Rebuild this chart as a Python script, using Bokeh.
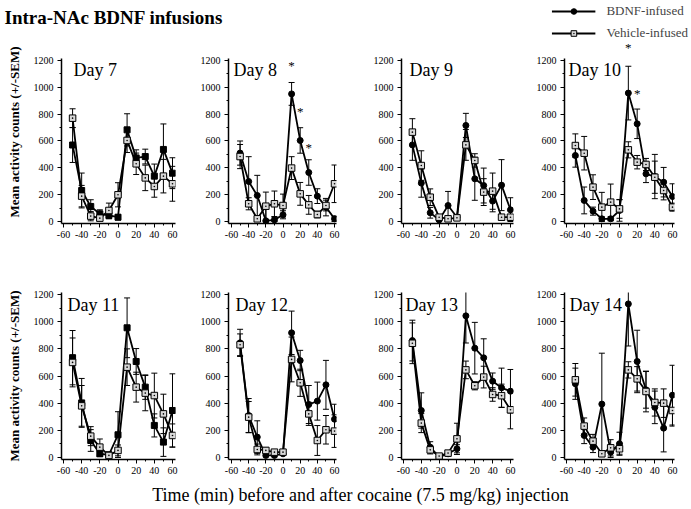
import numpy as np
from bokeh.plotting import figure
from bokeh.layouts import column, row
from bokeh.models import Range1d, FixedTicker, Label, Legend, LegendItem
from bokeh.embed import file_html
from bokeh.resources import INLINE

SERIF = "Liberation Serif"

time_min = [-50, -40, -30, -20, -10, 0, 10, 20, 30, 40, 50, 60]
x_ticks = [-60, -40, -20, 0, 20, 40, 60]
y_ticks = [0, 200, 400, 600, 800, 1000, 1200]

# ---- data (mean counts and SEM) ----
bdnf_d7 = [570, 231, 112, 57, 45, 32, 683, 474, 484, 338, 537, 360]
bdnf_d7_sem = [130, 130, 50, 30, 25, 20, 120, 60, 55, 90, 190, 115]
veh_d7 = [770, 189, 40, 25, 82, 199, 604, 430, 325, 261, 338, 281]
veh_d7_sem = [70, 80, 35, 20, 55, 90, 90, 80, 95, 80, 125, 130]

bdnf_d8 = [510, 298, 194, 5, 12, 50, 951, 604, 365, 189, 107, 20]
bdnf_d8_sem = [90, 185, 150, 100, 20, 30, 85, 95, 95, 55, 65, 20]
veh_d8 = [484, 132, 20, 114, 132, 119, 398, 206, 124, 52, 119, 281]
veh_d8_sem = [90, 45, 20, 105, 95, 85, 85, 85, 70, 25, 40, 140]

bdnf_d9 = [571, 286, 65, 12, 119, 32, 716, 318, 268, 152, 271, 87]
bdnf_d9_sem = [115, 105, 40, 10, 105, 15, 90, 160, 130, 80, 190, 90]
veh_d9 = [666, 417, 181, 32, 20, 27, 571, 455, 219, 226, 32, 32]
veh_d9_sem = [100, 110, 62, 15, 10, 15, 115, 50, 100, 135, 20, 20]

bdnf_d10 = [492, 157, 77, 20, 20, 82, 957, 728, 355, 335, 293, 186]
bdnf_d10_sem = [87, 100, 30, 15, 15, 80, 200, 110, 65, 165, 110, 95]
veh_d10 = [566, 509, 256, 107, 144, 94, 534, 442, 425, 330, 231, 107]
veh_d10_sem = [87, 125, 92, 110, 135, 70, 60, 50, 45, 120, 70, 30]

bdnf_d11 = [735, 402, 125, 27, 20, 167, 955, 707, 518, 236, 113, 346]
bdnf_d11_sem = [200, 180, 80, 20, 15, 170, 220, 95, 90, 85, 105, 270]
veh_d11 = [700, 380, 157, 76, 15, 52, 665, 518, 474, 456, 321, 162]
veh_d11_sem = [180, 150, 70, 60, 10, 40, 135, 110, 130, 165, 145, 85]

bdnf_d12 = [844, 309, 150, 15, 15, 27, 918, 714, 390, 415, 535, 282]
bdnf_d12_sem = [100, 125, 120, 10, 10, 10, 160, 75, 140, 140, 180, 110]
veh_d12 = [830, 297, 59, 52, 39, 39, 722, 550, 321, 125, 204, 194]
veh_d12_sem = [80, 115, 40, 20, 15, 15, 165, 100, 85, 110, 105, 120]

bdnf_d13 = [861, 346, 76, 5, 27, 64, 1043, 805, 734, 562, 513, 488]
bdnf_d13_sem = [150, 130, 40, 10, 15, 30, 200, 190, 140, 60, 145, 160]
veh_d13 = [841, 253, 56, 10, 32, 137, 645, 528, 592, 464, 455, 351]
veh_d13_sem = [150, 70, 30, 10, 15, 115, 65, 30, 80, 50, 85, 140]

bdnf_d14 = [543, 162, 76, 393, 39, 101, 1131, 707, 498, 369, 216, 459]
bdnf_d14_sem = [115, 60, 40, 375, 40, 85, 310, 230, 135, 120, 175, 220]
veh_d14 = [572, 231, 120, 27, 71, 64, 645, 579, 486, 405, 400, 346]
veh_d14_sem = [120, 60, 50, 20, 60, 40, 60, 90, 150, 100, 105, 115]

# significance asterisks (time, height)
star_d8_x = [10, 20, 30]
star_d8_y = [1163, 820, 554]
star_d10_x = [10, 20]
star_d10_y = [1295, 956]

panels = [
    (7, bdnf_d7, bdnf_d7_sem, veh_d7, veh_d7_sem, "square", None),
    (8, bdnf_d8, bdnf_d8_sem, veh_d8, veh_d8_sem, "circle", (star_d8_x, star_d8_y)),
    (9, bdnf_d9, bdnf_d9_sem, veh_d9, veh_d9_sem, "circle", None),
    (10, bdnf_d10, bdnf_d10_sem, veh_d10, veh_d10_sem, "circle", (star_d10_x, star_d10_y)),
    (11, bdnf_d11, bdnf_d11_sem, veh_d11, veh_d11_sem, "square", None),
    (12, bdnf_d12, bdnf_d12_sem, veh_d12, veh_d12_sem, "circle", None),
    (13, bdnf_d13, bdnf_d13_sem, veh_d13, veh_d13_sem, "circle", None),
    (14, bdnf_d14, bdnf_d14_sem, veh_d14, veh_d14_sem, "circle", None),
]

# layout geometry (px)
col_xr = [(-62.2, 63.3), (-63.5, 62.3), (-62.2, 63.4), (-62.3, 62.3)]
col_bl = [61, 40, 40, 40]
col_fw = [114, 108, 112, 110]
col_br = [13, 25, 11, 17]
day_dx = [12, 5, 8, 4, 6, 7, 4, 5]
row_yr = [(-15, -15 + 183 / (161 / 1200)), (-15, 1215)]
row_bt = [0, 50]
row_fh = [183, 167]
row_bb = [19, 19]

YLAB = "Mean activity counts (+/-SEM)"
TICK_TEXT = {-60: "-60", -40: "-40", -20: "-20"}


def make_panel(i, day, bdnf, bsem, veh, vsem, bmark, stars):
    c = i % 4
    r = i // 4
    w = col_bl[c] + col_fw[c] + col_br[c]
    h = row_bt[r] + row_fh[r] + row_bb[r]
    p = figure(width=w, height=h, x_range=Range1d(*col_xr[c]), y_range=Range1d(*row_yr[r]),
               output_backend="svg", toolbar_location=None,
               min_border_left=col_bl[c], min_border_right=col_br[c],
               min_border_top=row_bt[r], min_border_bottom=row_bb[r])
    p.outline_line_color = None
    p.grid.visible = False

    p.xaxis.ticker = FixedTicker(ticks=x_ticks, minor_ticks=list(range(-60, 61, 10)))
    p.xaxis.major_label_overrides = TICK_TEXT
    p.yaxis.ticker = FixedTicker(ticks=y_ticks, minor_ticks=list(range(0, 1201, 100)))
    p.yaxis.bounds = (-15, 1215)
    for ax in (p.xaxis, p.yaxis):
        ax.axis_line_width = 1.5
        ax.axis_line_color = "black"
        ax.major_tick_line_color = "black"
        ax.minor_tick_line_color = "black"
        ax.major_tick_out = 4
        ax.major_tick_in = 0
        ax.minor_tick_out = 2
        ax.minor_tick_in = 0
        ax.major_label_text_font = SERIF
        ax.major_label_text_font_size = "10px"
        ax.major_label_text_color = "black"
    p.xaxis.major_label_standoff = 3
    p.yaxis.major_label_standoff = 4
    if c == 0:
        p.yaxis.axis_label = YLAB
        p.yaxis.axis_label_text_font = SERIF
        p.yaxis.axis_label_text_font_style = "bold"
        p.yaxis.axis_label_text_font_size = "13px"
        p.yaxis.axis_label_standoff = 9
        p.yaxis.axis_label_text_color = "black"

    t = np.array(time_min, dtype=float)
    b = np.array(bdnf, dtype=float)
    be = np.array(bsem, dtype=float)
    v = np.array(veh, dtype=float)
    ve = np.array(vsem, dtype=float)

    # error bars (+/- SEM)
    for yy, ee in ((v, ve), (b, be)):
        lo = np.maximum(yy - ee, 0)
        hi = yy + ee
        p.segment(x0=t, y0=lo, x1=t, y1=hi, line_color="black", line_width=1)
        p.scatter(x=np.concatenate([t, t]), y=np.concatenate([lo, hi]), marker="dash",
                  size=6, line_color="black", line_width=1)

    p.line(t, v, line_color="black", line_width=1.8)
    p.line(t, b, line_color="black", line_width=1.8)
    p.scatter(t, b, marker=bmark, size=6, fill_color="black", line_color="black")
    p.scatter(t, v, marker="square_dot", size=6.5, fill_color="#d8d8d8", line_color="black",
              line_width=1)

    sx = (col_xr[c][1] - col_xr[c][0]) / col_fw[c]
    p.add_layout(Label(x=col_xr[c][0] + day_dx[i] * sx, y=1200, text=f"Day {day}",
                       text_font=SERIF, text_font_size="18px", text_baseline="top",
                       text_align="left", text_color="black"))
    if stars is not None:
        for stx, sty in zip(*stars):
            p.add_layout(Label(x=stx, y=sty, text="*", text_align="center",
                               text_baseline="middle", text_font=SERIF,
                               text_font_size="13px", text_color="black"))
    return p


figs = [make_panel(i, *pp) for i, pp in enumerate(panels)]

# header with title and legend
HDR_H = 40
hdr = figure(width=691, height=HDR_H, x_range=Range1d(0, 691), y_range=Range1d(0, HDR_H),
             output_backend="svg", toolbar_location=None, min_border=0,
             x_axis_location=None, y_axis_location=None)
hdr.outline_line_color = None
hdr.grid.visible = False
hdr.add_layout(Label(x=4, y=HDR_H - 6, text="Intra-NAc BDNF infusions", text_font=SERIF,
                     text_font_style="bold", text_font_size="19px", text_baseline="top",
                     text_align="left", text_color="black"))
l1 = hdr.line(x=[np.nan], y=[np.nan], line_color="black", line_width=1.8)
s1 = hdr.scatter(x=[np.nan], y=[np.nan], marker="circle", size=6, fill_color="black",
                 line_color="black")
l2 = hdr.line(x=[np.nan], y=[np.nan], line_color="black", line_width=1.8)
s2 = hdr.scatter(x=[np.nan], y=[np.nan], marker="square_dot", size=6.5, fill_color="#d8d8d8",
                 line_color="black")
leg = Legend(items=[LegendItem(label="BDNF-infused", renderers=[l1, s1]),
                    LegendItem(label="Vehicle-infused", renderers=[l2, s2])],
             location="top_right", glyph_width=44, glyph_height=14, label_height=14,
             spacing=6, padding=0, margin=3, label_standoff=11,
             label_text_font=SERIF, label_text_font_size="13px",
             border_line_color=None, background_fill_alpha=0)
hdr.add_layout(leg)

# footer with x-axis title
FTR_H = 31
ftr = figure(width=691, height=FTR_H, x_range=Range1d(0, 691), y_range=Range1d(0, FTR_H),
             output_backend="svg", toolbar_location=None, min_border=0,
             x_axis_location=None, y_axis_location=None)
ftr.outline_line_color = None
ftr.grid.visible = False
ftr.add_layout(Label(x=360, y=15, text="Time (min) before and after cocaine (7.5 mg/kg) injection",
                     text_font=SERIF, text_font_size="18px", text_align="center",
                     text_baseline="middle", text_color="black"))

layout = column(hdr, row(*figs[:4]), row(*figs[4:]), ftr)

open("out.html", "w").write(file_html(layout, INLINE))
